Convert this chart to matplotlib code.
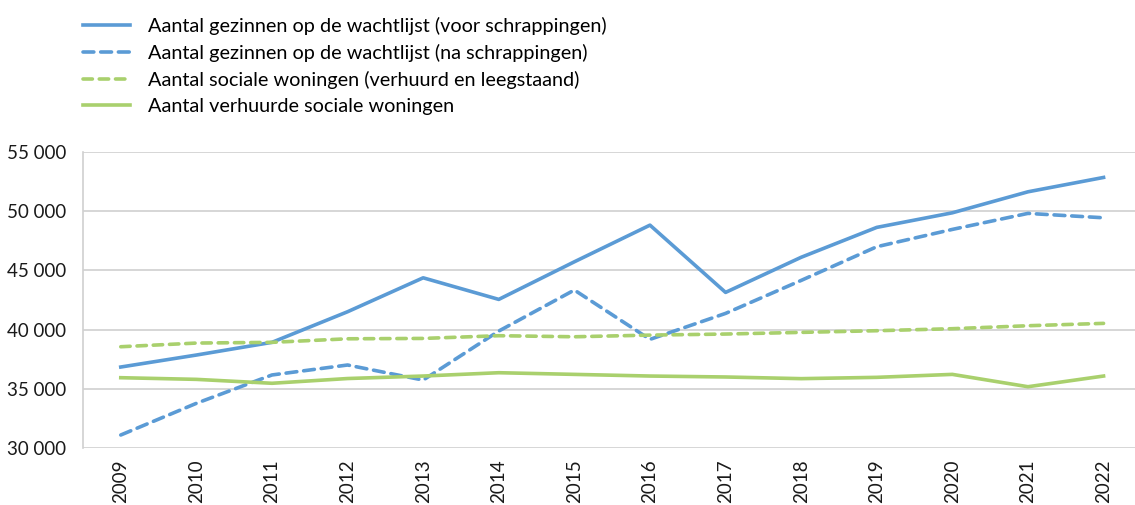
import numpy as np
import matplotlib
matplotlib.use("Agg")
import matplotlib.pyplot as plt
from matplotlib.ticker import FuncFormatter

plt.rcParams['font.family'] = ['Lato', 'DejaVu Sans']

years = ['2009', '2010', '2011', '2012', '2013', '2014', '2015',
         '2016', '2017', '2018', '2019', '2020', '2021', '2022']
wacht_voor = [36850, 37860, 38930, 41510, 44370, 42550, 45720,
              48810, 43140, 46100, 48620, 49850, 51620, 52830]
wacht_na = [31120, 33790, 36180, 37020, 35750, 39880, 43340,
            39180, 41370, 44150, 46990, 48450, 49800, 49430]
soc_totaal = [38560, 38870, 38930, 39230, 39260, 39490, 39400,
              39540, 39630, 39770, 39910, 40080, 40330, 40530]
soc_verhuurd = [35950, 35810, 35480, 35880, 36090, 36370, 36230,
                36090, 36010, 35870, 35980, 36230, 35190, 36090]

labels = ['Aantal gezinnen op de wachtlijst (voor schrappingen)',
          'Aantal gezinnen op de wachtlijst (na schrappingen)',
          'Aantal sociale woningen (verhuurd en leegstaand)',
          'Aantal verhuurde sociale woningen']

blue = '#5b9bd5'
green = '#a9d06d'

fig = plt.figure(figsize=(11.35, 5.05), dpi=100)
ax = fig.add_axes([0.0731, 0.1123, 0.9325, 0.5873])

x = np.arange(len(years))
lw = 2.6
ax.plot(x, wacht_voor, color=blue, lw=lw, label=labels[0], solid_joinstyle='round')
ax.plot(x, wacht_na, color=blue, lw=lw, label=labels[1], dashes=(3.0, 1.9),
        dash_capstyle='round')
ax.plot(x, soc_totaal, color=green, lw=lw, label=labels[2], dashes=(2.6, 1.9),
        dash_capstyle='round')
ax.plot(x, soc_verhuurd, color=green, lw=lw, label=labels[3], solid_joinstyle='round')

ax.set_xlim(-0.5, 13.5)
ax.set_ylim(30000, 55000)
ax.set_yticks(np.arange(30000, 55001, 5000))
ax.yaxis.set_major_formatter(FuncFormatter(lambda v, p: f"{int(v):,}".replace(',', ' ')))
ax.set_xticks(x)
ax.set_xticklabels(years, rotation=90)
ax.grid(axis='y', color='#d0d0d0', lw=1.2)
ax.set_axisbelow(True)
for s in ['top', 'right', 'bottom']:
    ax.spines[s].set_visible(False)
ax.spines['left'].set_color('#d0d0d0')
ax.spines['left'].set_linewidth(1.2)
ax.tick_params(axis='both', length=0, labelsize=13.5, colors='#1a1a1a')
ax.tick_params(axis='y', pad=12)
ax.tick_params(axis='x', pad=8)

fig.legend(loc='upper left', bbox_to_anchor=(0.0731, 0.966), frameon=False,
           fontsize=14.3, handlelength=2.35, handletextpad=0.9,
           labelspacing=0.45, borderaxespad=0, borderpad=0)

fig.savefig('out.png', dpi=100)
